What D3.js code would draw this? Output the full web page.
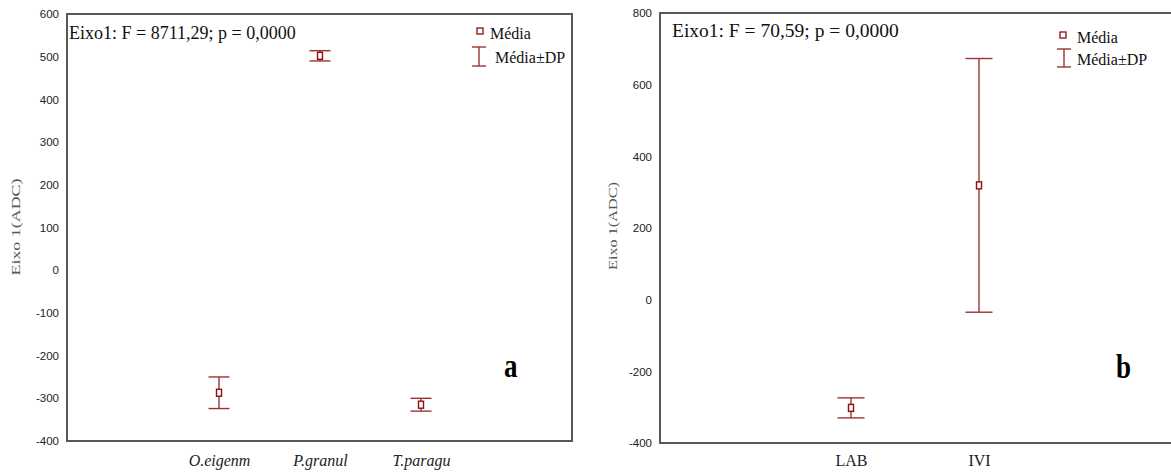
<!DOCTYPE html>
<html>
<head>
<meta charset="utf-8">
<script src="https://cdn.jsdelivr.net/npm/d3@7"></script>
<style>
  body { margin: 0; background: #fff; }
  svg { display: block; }
</style>
</head>
<body>
<svg id="chart" width="1171" height="472"></svg>
<script>
// ---------- data ----------
const catsA = ["O.eigenm", "P.granul", "T.paragu"];
const meanA = [-287, 502, -315];
const sdA   = [37, 12, 15];
const ticksA = [600, 500, 400, 300, 200, 100, 0, -100, -200, -300, -400];
const statA = "Eixo1: F = 8711,29; p = 0,0000";

const catsB = ["LAB", "IVI"];
const meanB = [-302, 319];
const sdB   = [28, 354];
const ticksB = [800, 600, 400, 200, 0, -200, -400];
const statB = "Eixo1: F = 70,59; p = 0,0000";

const yTitle = "Eixo 1(ADC)";
const legendLabels = ["Média", "Média±DP"];

// ---------- styles ----------
const barColor = "#9a3535";
const meanColor = "#8b1010";
const frameColor = "#575757";
const serif = "'Liberation Serif', 'Times New Roman', serif";
const sans = "'Liberation Sans', Arial, sans-serif";

const svg = d3.select("#chart");

function panel(cfg) {
  const g = svg.append("g");
  const y = d3.scaleLinear().domain(cfg.yDomain).range([cfg.bottom, cfg.top]);
  const x = d3.scalePoint().domain(cfg.cats).range(cfg.xRange);

  // frame
  g.append("rect")
    .attr("x", cfg.left).attr("y", cfg.top)
    .attr("width", cfg.right - cfg.left).attr("height", cfg.bottom - cfg.top)
    .attr("fill", "none").attr("stroke", frameColor).attr("stroke-width", 2);

  // y axis labels (no tick marks)
  const ax = d3.axisLeft(y).tickValues(cfg.ticks).tickSize(0).tickPadding(8)
    .tickFormat(d => String(d));
  const axg = g.append("g").attr("transform", `translate(${cfg.left},0)`).call(ax);
  axg.select(".domain").remove();
  axg.selectAll("text").attr("font-family", sans).attr("font-size", 11.5)
    .attr("fill", "#222");

  // x axis labels
  const xa = d3.axisBottom(x).tickSize(0).tickPadding(0);
  const xg = g.append("g").attr("transform", `translate(0,${cfg.xLabelY})`).call(xa);
  xg.select(".domain").remove();
  xg.selectAll("text").attr("font-family", serif).attr("font-size", 16)
    .attr("font-style", cfg.italic ? "italic" : "normal")
    .attr("fill", "#222").attr("dy", 0);

  // y title
  g.append("text")
    .attr("transform", `translate(${cfg.titleX},${cfg.titleY}) rotate(-90)`)
    .attr("text-anchor", "middle")
    .attr("font-family", serif).attr("font-size", 13.5)
    .attr("fill", "#555")
    .attr("textLength", cfg.titleLen).attr("lengthAdjust", "spacingAndGlyphs")
    .text(yTitle);

  // stat text
  g.append("text").attr("x", cfg.statX).attr("y", cfg.statY)
    .attr("font-family", serif).attr("font-size", cfg.statSize)
    .attr("fill", "#111").text(cfg.stat);

  // error bars
  const data = cfg.cats.map((c, i) => ({ c, m: cfg.means[i], s: cfg.sds[i] }));
  const eb = g.selectAll(".eb").data(data).join("g").attr("class", "eb");
  eb.append("line")
    .attr("x1", d => x(d.c)).attr("x2", d => x(d.c))
    .attr("y1", d => y(d.m + d.s)).attr("y2", d => y(d.m - d.s))
    .attr("stroke", barColor).attr("stroke-width", 1.4);
  [1, -1].forEach(sign => {
    eb.append("line")
      .attr("x1", d => x(d.c) - cfg.capW / 2).attr("x2", d => x(d.c) + cfg.capW / 2)
      .attr("y1", d => y(d.m + sign * d.s)).attr("y2", d => y(d.m + sign * d.s))
      .attr("stroke", barColor).attr("stroke-width", 1.4);
  });
  eb.append("rect")
    .attr("x", d => x(d.c) - 2.5).attr("y", d => y(d.m) - 3.5)
    .attr("width", 5).attr("height", 7)
    .attr("fill", "#fff").attr("stroke", meanColor).attr("stroke-width", 1.4);

  // legend
  const L = cfg.legend;
  g.append("rect").attr("x", L.sqX).attr("y", L.sqY).attr("width", 6).attr("height", 6)
    .attr("fill", "#fff").attr("stroke", meanColor).attr("stroke-width", 1.3);
  g.append("text").attr("x", L.textX).attr("y", L.y1)
    .attr("font-family", serif).attr("font-size", 16).attr("fill", "#111")
    .text(legendLabels[0]);
  const ix = L.iconX;
  g.append("line").attr("x1", ix).attr("x2", ix).attr("y1", L.iconTop).attr("y2", L.iconBot)
    .attr("stroke", barColor).attr("stroke-width", 1.4);
  [L.iconTop, L.iconBot].forEach(yy => {
    g.append("line").attr("x1", ix - 7).attr("x2", ix + 7).attr("y1", yy).attr("y2", yy)
      .attr("stroke", barColor).attr("stroke-width", 1.4);
  });
  g.append("text").attr("x", L.textX2).attr("y", L.y2)
    .attr("font-family", serif).attr("font-size", 16).attr("fill", "#111")
    .text(legendLabels[1]);

  // panel letter
  g.append("text")
    .attr("transform", `translate(${cfg.letterX},${cfg.letterY}) scale(1,1.25)`)
    .attr("font-family", serif).attr("font-weight", "bold").attr("font-size", 27)
    .attr("fill", "#000").text(cfg.letter);
}

panel({
  cats: catsA, means: meanA, sds: sdA, ticks: ticksA, yDomain: [-400, 600],
  left: 67, right: 572, top: 14, bottom: 441, xRange: [219, 421],
  xLabelY: 466, italic: true, capW: 21,
  titleX: 20, titleY: 227, titleLen: 97,
  stat: statA, statX: 69, statY: 39, statSize: 18,
  legend: { sqX: 477, sqY: 28, textX: 490, y1: 39, iconX: 479, iconTop: 47, iconBot: 66, textX2: 495, y2: 63 },
  letter: "a", letterX: 504, letterY: 377
});

panel({
  cats: catsB, means: meanB, sds: sdB, ticks: ticksB, yDomain: [-400, 800],
  left: 660, right: 1180, top: 13, bottom: 443, xRange: [851, 979],
  xLabelY: 466, italic: false, capW: 27,
  titleX: 617, titleY: 226, titleLen: 88,
  stat: statB, statX: 672, statY: 37, statSize: 19.5,
  legend: { sqX: 1060, sqY: 32, textX: 1077, y1: 43, iconX: 1064, iconTop: 49, iconBot: 67, textX2: 1077, y2: 65 },
  letter: "b", letterX: 1116, letterY: 378
});
</script>
</body>
</html>
